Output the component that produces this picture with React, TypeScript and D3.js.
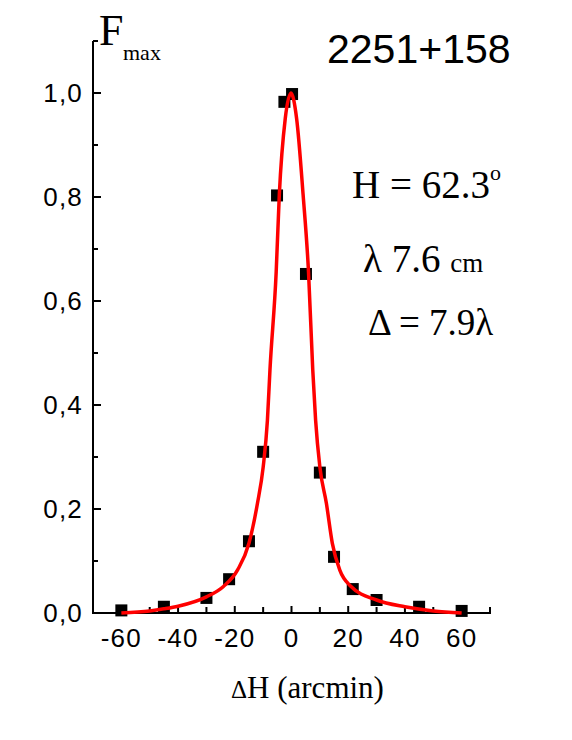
import React from "react";
import * as d3 from "d3";

const pointsX = [-60, -45, -30, -22, -15, -10, -5.1, -2.5, 0.2, 5.1, 10, 15, 21.6, 30, 45, 60];
const pointsY = [0.005, 0.012, 0.029, 0.065, 0.138, 0.31, 0.803, 0.983, 0.998, 0.652, 0.27, 0.108, 0.046, 0.025, 0.012, 0.004];

const curveX = [-60, -50, -45, -40, -30, -24, -19, -15, -12, -10, -8.5, -7.6, -5.4, -4.3, -2.2, -0.2, 1.8, 4.1, 6, 7.5, 8.5, 10, 12.3, 14.4, 17, 21, 30, 40, 50, 60];
const curveY = [0.0, 0.004, 0.008, 0.013, 0.031, 0.051, 0.083, 0.134, 0.211, 0.28, 0.37, 0.467, 0.656, 0.804, 0.951, 1.0, 0.951, 0.804, 0.656, 0.467, 0.371, 0.281, 0.211, 0.134, 0.083, 0.051, 0.025, 0.012, 0.004, 0.0];

const xTickLabels = [-60, -40, -20, 0, 20, 40, 60];
const xMinorTicks = [-70, -50, -30, -10, 10, 30, 50, 70];
const yTickValues = [0, 0.2, 0.4, 0.6, 0.8, 1.0];
const yTickLabels = ["0,0", "0,2", "0,4", "0,6", "0,8", "1,0"];
const yMinorTicks = [0.1, 0.3, 0.5, 0.7, 0.9, 1.1];

export default function App() {
  const W = 572, H = 740;
  const x = d3.scaleLinear().domain([-70, 70]).range([93, 490]);
  const y = d3.scaleLinear().domain([0, 1.1]).range([613, 41]);
  const line = d3
    .line<number>()
    .x((_, i) => x(curveX[i]))
    .y((d) => y(d))
    .curve(d3.curveMonotoneX);
  const sq = 12;
  const sans = "'Liberation Sans', Arial, sans-serif";
  const serif = "'Liberation Serif', 'Times New Roman', serif";
  return (
    <div style={{ position: "absolute", left: 0, top: 0 }}>
      <svg width={W} height={H} style={{ display: "block", background: "#fff" }}>
        {/* axes */}
        <line x1={x(-70)} x2={x(-70)} y1={y(1.1)} y2={y(0) + 1} stroke="#000" strokeWidth={2} />
        <line x1={x(-70) - 1} x2={x(70) + 1} y1={y(0)} y2={y(0)} stroke="#000" strokeWidth={2} />
        {/* y ticks */}
        {yTickValues.map((v, i) => (
          <g key={"yt" + i}>
            <line x1={x(-70)} x2={x(-70) + 8} y1={y(v)} y2={y(v)} stroke="#000" strokeWidth={2} />
            <text x={83} y={y(v) + 9} textAnchor="end" fontFamily={sans} fontSize={26} letterSpacing={1.2} fill="#000">
              {yTickLabels[i]}
            </text>
          </g>
        ))}
        {yMinorTicks.map((v, i) => (
          <line key={"ym" + i} x1={x(-70)} x2={x(-70) + 5} y1={y(v)} y2={y(v)} stroke="#000" strokeWidth={2} />
        ))}
        {/* x ticks */}
        {xTickLabels.map((v, i) => (
          <g key={"xt" + i}>
            <line x1={x(v)} x2={x(v)} y1={y(0)} y2={y(0) - 7} stroke="#000" strokeWidth={2} />
            <text x={x(v)} y={647} textAnchor="middle" fontFamily={sans} fontSize={26} letterSpacing={1.2} fill="#000">
              {String(v)}
            </text>
          </g>
        ))}
        {xMinorTicks.map((v, i) => (
          <line key={"xm" + i} x1={x(v)} x2={x(v)} y1={y(0)} y2={y(0) - 6} stroke="#000" strokeWidth={2} />
        ))}
        {/* points */}
        {pointsY.map((v, i) => (
          <rect key={"p" + i} x={x(pointsX[i]) - sq / 2} y={y(v) - sq / 2} width={sq} height={sq} fill="#000" />
        ))}
        {/* fit */}
        <path d={line(curveY) || ""} fill="none" stroke="#ff0000" strokeWidth={3.5} />
        {/* labels */}
        <text x={99} y={45} fontFamily={serif} fontSize={44} fill="#000">F</text>
        <text x={123} y={60} fontFamily={serif} fontSize={22} fill="#000">max</text>
        <text x={327} y={63} fontFamily={sans} fontSize={41} fill="#000">2251+158</text>
        <text x={352} y={198} fontFamily={serif} fontSize={39} fill="#000">
          H = 62.3<tspan fontSize={22} dy={-18}>o</tspan>
        </text>
        <text x={363} y={272} fontFamily={serif} fontSize={39} fill="#000">
          λ 7.6 <tspan fontSize={27}>cm</tspan>
        </text>
        <text x={368} y={335} fontFamily={serif} fontSize={37} fill="#000">Δ = 7.9λ</text>
        <text x={231} y={698} fontFamily={serif} fontSize={31} fill="#000">
          <tspan fontSize={25}>Δ</tspan>H (arcmin)
        </text>
      </svg>
    </div>
  );
}
